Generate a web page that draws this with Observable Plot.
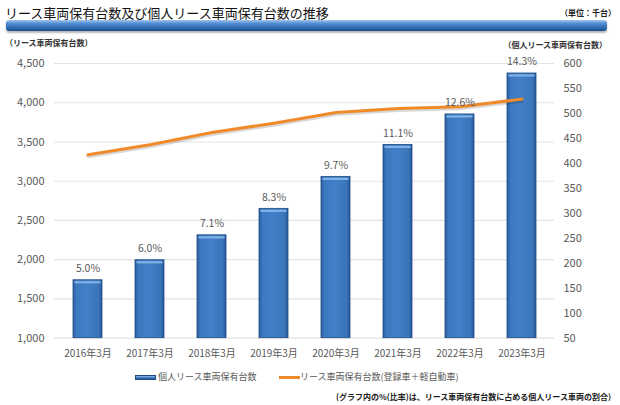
<!DOCTYPE html>
<html>
<head>
<meta charset="utf-8">
<script src="https://cdn.jsdelivr.net/npm/d3@7"></script>
<script src="https://cdn.jsdelivr.net/npm/@observablehq/plot@0.6"></script>
<style>
  html, body { margin: 0; padding: 0; background: #fff; }
  #wrap { position: relative; width: 620px; height: 405px; overflow: hidden; font-family: "Noto Sans CJK JP", "Noto Sans", sans-serif; }
  .abs { position: absolute; white-space: nowrap; }
  #title { left: 5px; top: 3px; font-size: 13px; line-height: 19px; color: #111; }
  #unit { right: 4px; top: 5px; font-size: 8px; line-height: 16px; font-weight: bold; color: #222; }
  #band { left: 6px; top: 20px; width: 601px; height: 11px; border-radius: 3px;
          background: linear-gradient(#a4c7ec 0%, #5590d4 30%, #3470b8 65%, #1d4c8c 100%);
          box-shadow: 0 2px 2px rgba(0,0,0,0.28); }
  #ltitle { left: 5px; top: 36px; font-size: 8px; line-height: 14px; font-weight: bold; color: #333; }
  #rtitle { right: 13px; top: 38px; font-size: 8px; line-height: 14px; font-weight: bold; color: #333; }
  #chart { position: absolute; left: 0; top: 50px; }
  .leg { top: 370px; font-size: 9px; line-height: 14px; color: #595959; }
  #icon1 { position: absolute; left: 135px; top: 375px; width: 21px; height: 5px; border: 1px solid #1d4a85; box-sizing: border-box;
           background: linear-gradient(#8fbbea, #3a74ba 60%, #2a5b9c); }
  #icon2 { position: absolute; left: 279px; top: 376px; width: 21px; height: 3px; background: #f08a2a; }
  #note { right: 9px; top: 390px; font-size: 8px; line-height: 14px; font-weight: bold; color: #222; }
</style>
</head>
<body>
<div id="wrap">
  <div id="title" class="abs">リース車両保有台数及び個人リース車両保有台数の推移</div>
  <div id="unit" class="abs">（単位：千台）</div>
  <div id="band" class="abs"></div>
  <div id="ltitle" class="abs">（リース車両保有台数）</div>
  <div id="rtitle" class="abs">（個人リース車両保有台数）</div>
  <div id="chart"></div>
  <div id="icon1"></div>
  <div class="abs leg" style="left:158px">個人リース車両保有台数</div>
  <div id="icon2"></div>
  <div class="abs leg" style="left:300px">リース車両保有台数(登録車＋軽自動車)</div>
  <div id="note" class="abs">(グラフ内の%(比率)は、リース車両保有台数に占める個人リース車両の割合)</div>
</div>
<script>
// ---- data ----
const labels = ["2016年3月", "2017年3月", "2018年3月", "2019年3月", "2020年3月", "2021年3月", "2022年3月", "2023年3月"];
const totalLease = [3337, 3464, 3621, 3740, 3875, 3926, 3948, 4046];      // left axis (千台)
const personalLease = [166, 206, 256, 309, 373, 437, 498, 580];           // right axis (千台)
const sharePct = [5.0, 6.0, 7.1, 8.3, 9.7, 11.1, 12.6, 14.3];
const leftTicks = [1000, 1500, 2000, 2500, 3000, 3500, 4000, 4500];
const rightTicks = [50, 100, 150, 200, 250, 300, 350, 400, 450, 500, 550, 600];

const data = labels.map((label, i) => ({
  label, total: totalLease[i], personal: personalLease[i], pct: sharePct[i]
}));

// map right-axis values into the left-axis domain (dual axis)
const L0 = leftTicks[0], L1 = leftTicks[leftTicks.length - 1];
const R0 = rightTicks[0], R1 = rightTicks[rightTicks.length - 1];
const toLeft = v => L0 + (v - R0) * (L1 - L0) / (R1 - R0);
const toRight = v => R0 + (v - L0) * (R1 - R0) / (L1 - L0);

const chart = Plot.plot({
  width: 620,
  height: 315,
  marginTop: 13,
  marginBottom: 27.3,
  marginLeft: 54,
  marginRight: 66,
  style: { fontFamily: '"Noto Sans CJK JP", "Noto Sans", sans-serif', fontSize: "10px", color: "#595959", background: "transparent", overflow: "visible" },
  x: { type: "band", domain: labels, paddingInner: 0.54, paddingOuter: 0.27, label: null },
  y: { domain: [L0, L1], label: null },
  marks: [
    Plot.gridY(leftTicks, { stroke: "#e3e3e3", strokeOpacity: 1, strokeWidth: 1.2 }),
    Plot.barY(data, { x: "label", y1: () => toLeft(R0), y2: d => toLeft(d.personal),
      fill: "url(#barGrad)", stroke: "#1d4a85", strokeWidth: 0.8 }),
    Plot.tickY(data, { x: "label", y: d => toLeft(d.personal), dy: 2, insetLeft: 1.5, insetRight: 1.5,
      stroke: "#80b2e8", strokeWidth: 2.2 }),
    Plot.line(data, { x: "label", y: "total", stroke: "#000", strokeOpacity: 0.15, strokeWidth: 3.5, dy: 1.8 }),
    Plot.line(data, { x: "label", y: "total", stroke: "#f08a2a", strokeWidth: 3 }),
    Plot.text(data, { x: "label", y: d => toLeft(d.personal), text: d => d.pct.toFixed(1) + "%",
      dy: -11.5, fill: "#595959", fontSize: 10.5 }),
    Plot.axisY(leftTicks, { anchor: "left", tickSize: 0, tickPadding: 10, fontSize: 11,
      tickFormat: d3.format(","), label: null }),
    Plot.axisY(rightTicks.map(toLeft), { anchor: "right", tickSize: 0, tickPadding: 9, fontSize: 11,
      tickFormat: d => String(Math.round(toRight(d))), label: null }),
    Plot.axisX({ tickSize: 0, tickPadding: 12, fontSize: 10, label: null })
  ]
});

chart.insertAdjacentHTML("afterbegin", `
<defs>
  <linearGradient id="barGrad" x1="0" x2="1" y1="0" y2="0">
    <stop offset="0%" stop-color="#2c5e9f"/>
    <stop offset="12%" stop-color="#3c78bf"/>
    <stop offset="50%" stop-color="#4180c7"/>
    <stop offset="88%" stop-color="#3a74b9"/>
    <stop offset="100%" stop-color="#28589a"/>
  </linearGradient>
</defs>`);

document.getElementById("chart").appendChild(chart);
</script>
</body>
</html>
